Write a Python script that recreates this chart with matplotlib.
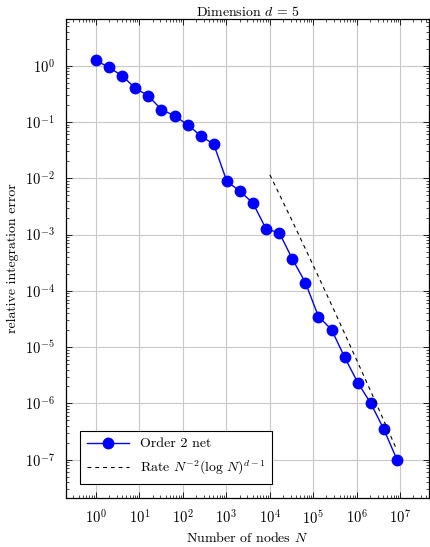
import numpy as np
import matplotlib
matplotlib.use("Agg")
import matplotlib.pyplot as plt
from matplotlib.ticker import LogLocator, NullFormatter, FixedLocator

plt.rcParams['font.family'] = 'serif'
plt.rcParams['font.serif'] = ['cmr10', 'DejaVu Serif']
plt.rcParams['mathtext.fontset'] = 'cm'
plt.rcParams['axes.formatter.use_mathtext'] = True

# number of nodes: powers of two 2^0 .. 2^23
nodes = [1, 2, 4, 8, 16, 32, 64, 128, 256, 512, 1024, 2048, 4096, 8192,
         16384, 32768, 65536, 131072, 262144, 524288, 1048576, 2097152,
         4194304, 8388608]
err = [1.24, 0.93, 0.66, 0.40, 0.29, 0.166, 0.129, 0.0895, 0.057, 0.040,
       8.8e-3, 5.9e-3, 3.6e-3, 1.25e-3, 1.08e-3, 3.7e-4, 1.4e-4, 3.5e-5,
       2.05e-5, 6.6e-6, 2.35e-6, 1.0e-6, 3.45e-7, 1.0e-7]

# reference rate line
rate_N = [1e4, 3e4, 1e5, 3e5, 1e6, 3e6, 8388608]
rate_val = [1.15e-2, 2.0e-3, 2.8e-4, 4.5e-5, 5.8e-6, 8.8e-7, 1.47e-7]

xticks = [1e0, 1e1, 1e2, 1e3, 1e4, 1e5, 1e6, 1e7]
yticks = [1e-7, 1e-6, 1e-5, 1e-4, 1e-3, 1e-2, 1e-1, 1e0]

fig = plt.figure(figsize=(4.3, 5.47), dpi=100)
ax = fig.add_axes([0.1535, 0.0896, 0.8442, 0.8757])

ax.plot(nodes, err, color='blue', lw=1.0, marker='o', ms=7.5,
        label='Order 2 net', zorder=3)
ax.plot(rate_N, rate_val, color='black', lw=0.8, ls=(0, (3.5, 3.5)),
        label=r'Rate $N^{-2}(\log\,N)^{d-1}$', zorder=3)

ax.set_xscale('log')
ax.set_yscale('log')
ax.set_xlim(10 ** -0.69, 10 ** 7.66)
ax.set_ylim(10 ** -7.68, 10 ** 0.83)

ax.xaxis.set_major_locator(FixedLocator(xticks))
ax.yaxis.set_major_locator(FixedLocator(yticks))
ax.xaxis.set_minor_locator(LogLocator(base=10, subs=np.arange(2, 10), numticks=20))
ax.yaxis.set_minor_locator(LogLocator(base=10, subs=np.arange(2, 10), numticks=20))
ax.xaxis.set_minor_formatter(NullFormatter())
ax.yaxis.set_minor_formatter(NullFormatter())

ax.tick_params(which='both', direction='in', top=True, right=True, labelsize=10.5)
ax.tick_params(which='major', length=4, width=0.6, pad=8)
ax.tick_params(which='minor', length=2.3, width=0.5)
ax.grid(True, which='major', color='#c8c8c8', lw=0.8)
ax.set_axisbelow(True)
for s in ax.spines.values():
    s.set_linewidth(0.9)

ax.set_title(r'Dimension $d\,=\,5$', fontsize=10, pad=2)
ax.set_xlabel(r'Number of nodes $N$', fontsize=10, labelpad=3)
ax.set_ylabel('relative integration error', fontsize=10, labelpad=4)

leg = ax.legend(loc='lower left', fontsize=10, fancybox=False, framealpha=1,
                edgecolor='black', borderaxespad=1.0, handlelength=3.0,
                borderpad=0.5, labelspacing=0.6)
leg.get_frame().set_linewidth(0.8)

fig.savefig('out.png', dpi=100)
